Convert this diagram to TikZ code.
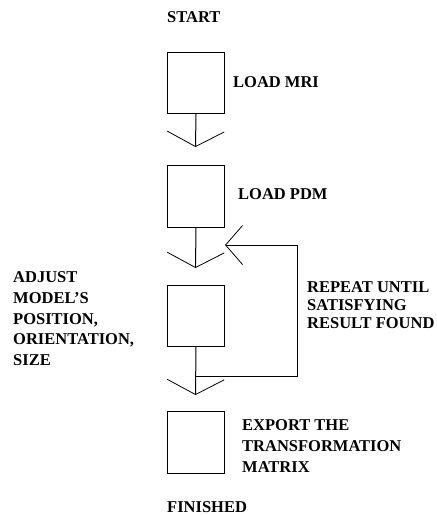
\documentclass[tikz,border=0pt]{standalone}
\usepackage{fontspec}
\setmainfont{Liberation Serif}
\usetikzlibrary{arrows.meta}
\begin{document}
\begin{tikzpicture}[x=1pt,y=-1pt,
  stepbox/.style={draw,line width=1pt,minimum width=57pt,minimum height=61pt,inner sep=0pt,anchor=north west},
  lbl/.style={anchor=north west,inner sep=0pt,font=\bfseries\fontsize{16.5}{20.7}\selectfont,align=left},
  conn/.style={line width=1pt,-{Straight Barb[length=15pt,width=57pt,line width=0.8pt]}},
  back/.style={line width=1pt,-{Straight Barb[length=17pt,width=39pt,line width=0.8pt]}}]
\useasboundingbox (0,0) rectangle (437,515);
% boxes
\node[stepbox] (b1) at (167,52) {};
\node[stepbox,minimum height=62pt] (b2) at (167,165) {};
\node[stepbox] (b3) at (167,285) {};
\node[stepbox,minimum height=62pt] (b4) at (167,411) {};
% arrow tips
\coordinate (t1) at (195.5,147);
\coordinate (t2) at (195.5,268);
\coordinate (t3) at (195.5,395);
\coordinate (fb) at (195.5,376);
\coordinate (fe) at (225,245);
\draw[conn] (b1.south) -- (t1);
\draw[conn] (b2.south) -- (t2);
\draw[conn] (b3.south) -- (t3);
\draw[back] (fb) -- ++(101.5,0) |- (fe);
% labels
\node[lbl] (start) at (167,11.5) {START};
\node[lbl] (l1) at (233,76.5) {LOAD MRI};
\node[lbl] (l2) at (238,188.5) {LOAD PDM};
\node[lbl] (l3) at (13,271.5) {ADJUST\\MODEL'S\\POSITION,\\ORIENTATION,\\SIZE};
\node[lbl,font=\bfseries\fontsize{16.5}{18}\selectfont] (rep) at (307,281.5) {REPEAT UNTIL\\SATISFYING\\RESULT FOUND};
\node[lbl,font=\bfseries\fontsize{16.5}{21}\selectfont] (l4) at (242,419.5) {EXPORT THE\\TRANSFORMATION\\MATRIX};
\node[lbl] (fin) at (167,501) {FINISHED};
\end{tikzpicture}
\end{document}
